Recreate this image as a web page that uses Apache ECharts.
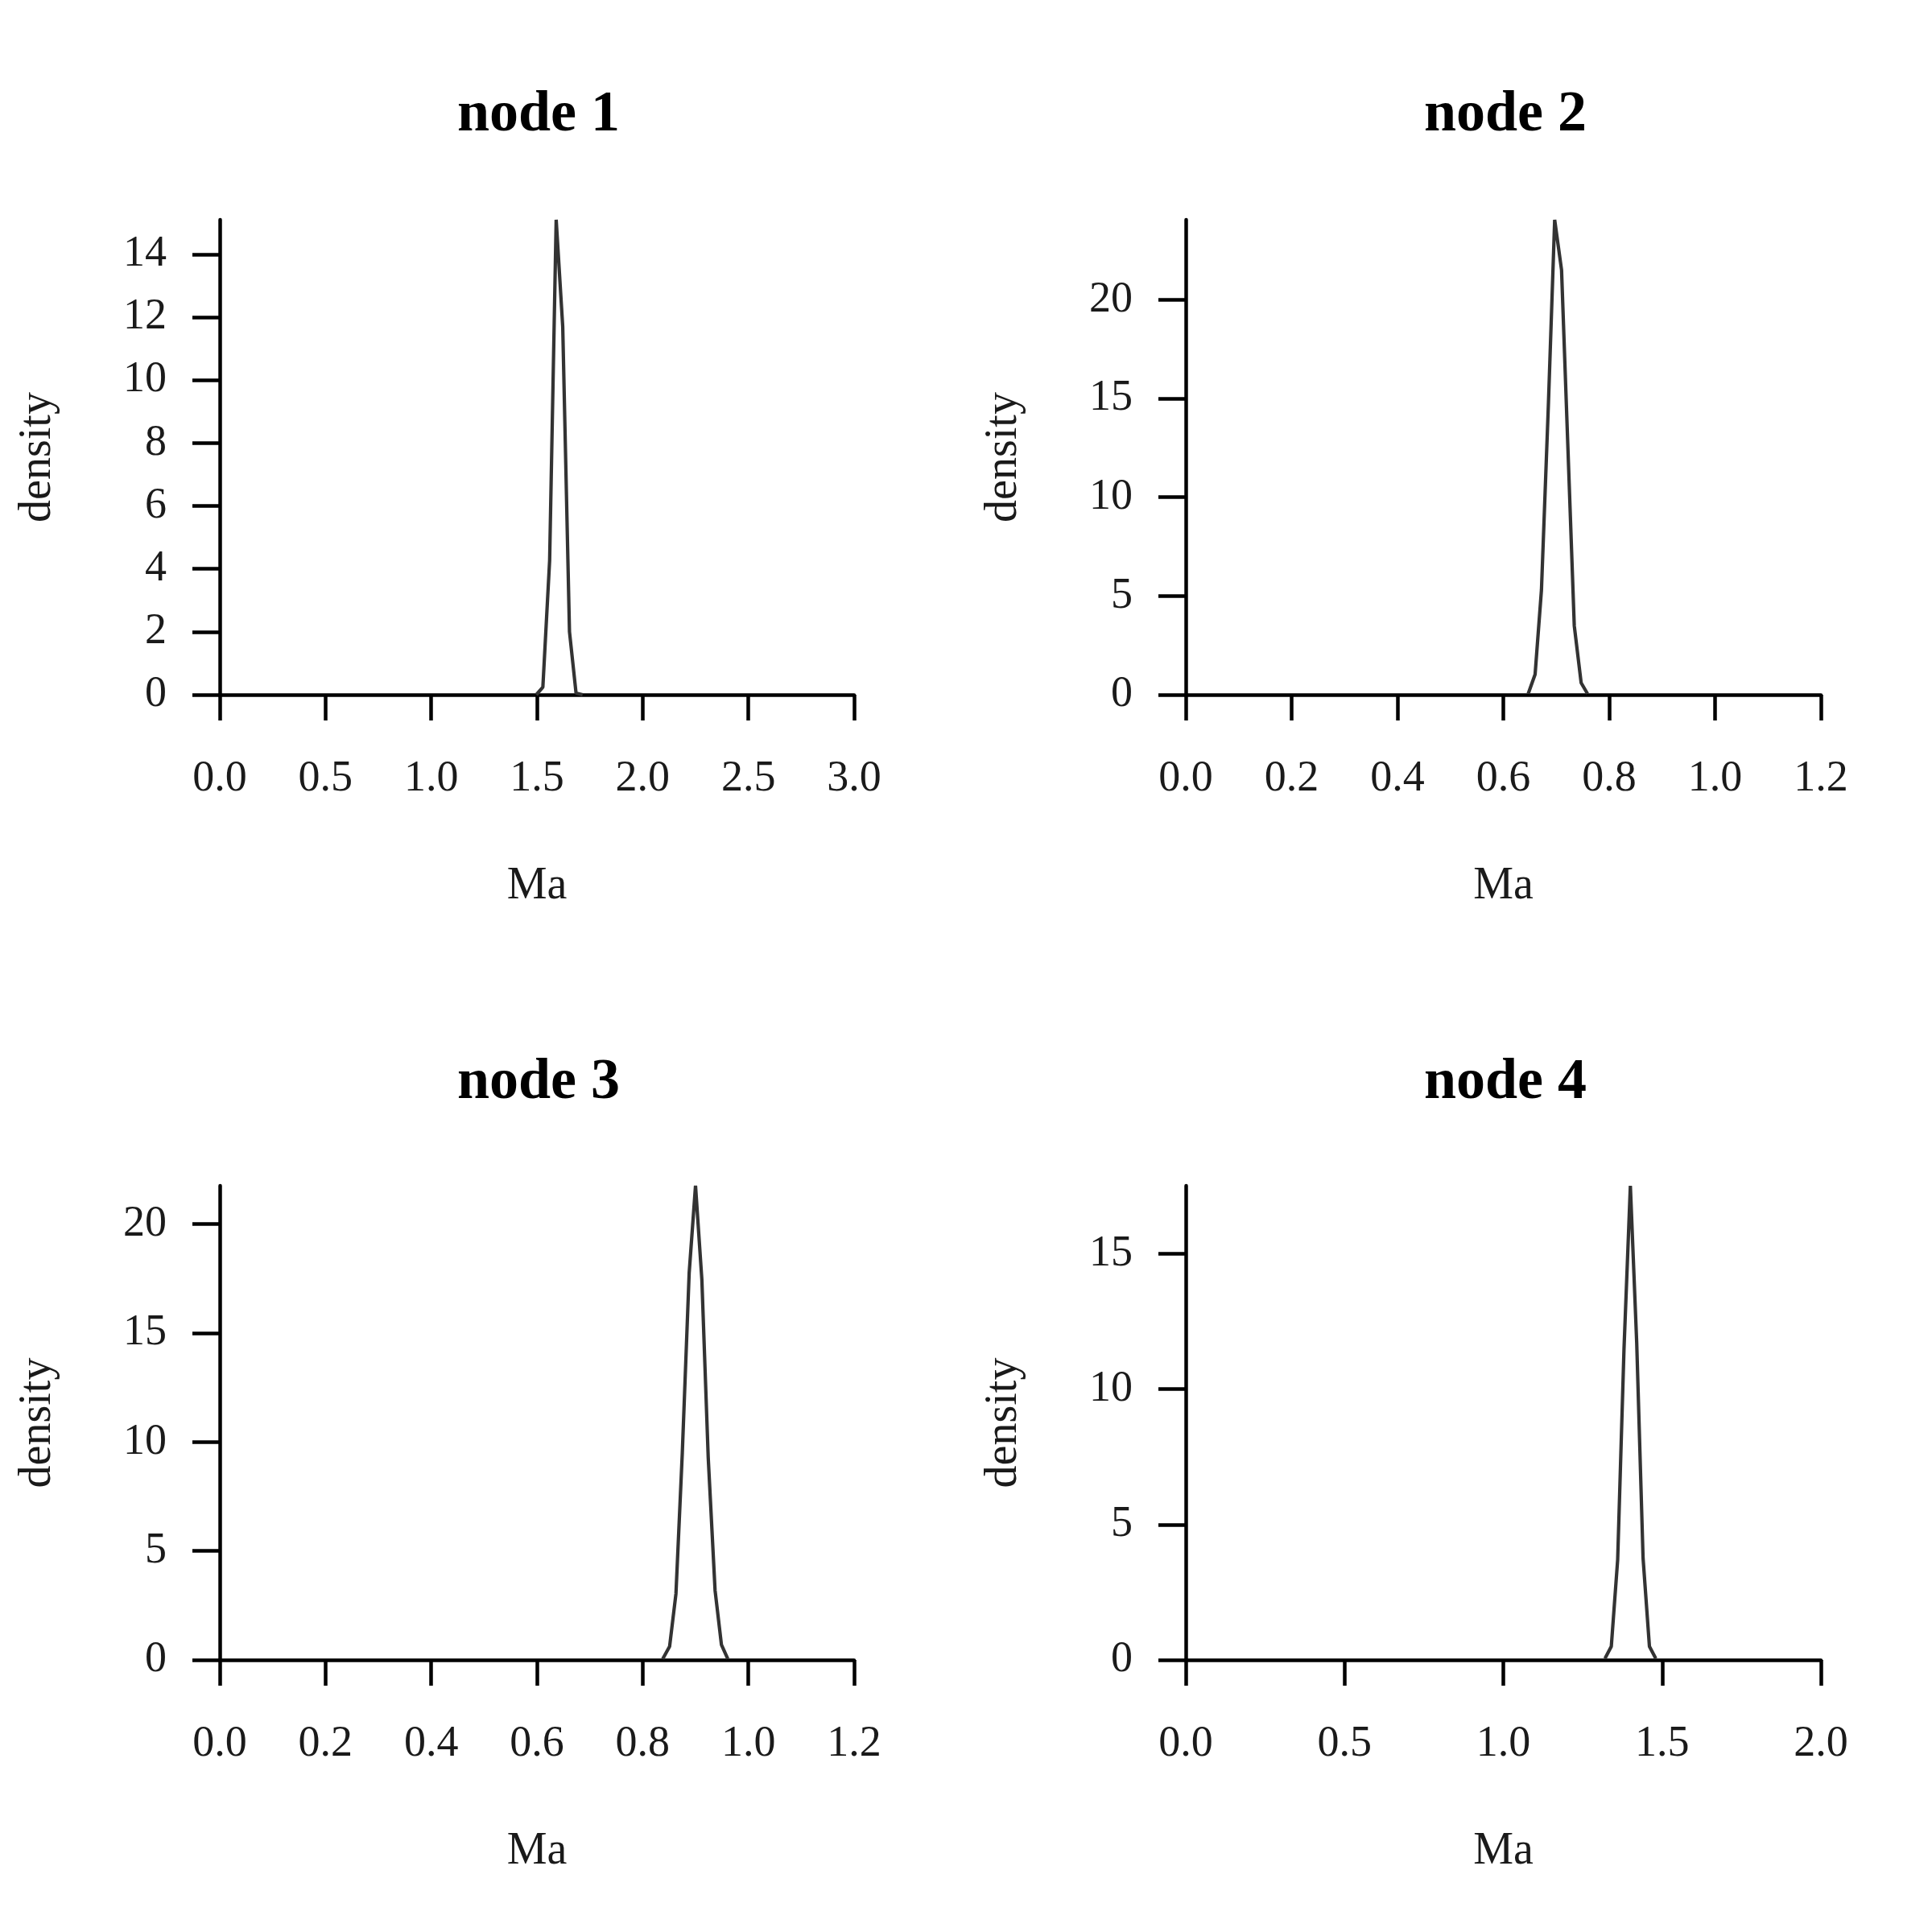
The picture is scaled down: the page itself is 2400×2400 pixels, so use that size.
<!DOCTYPE html>
<html>
<head>
<meta charset="utf-8">
<script src="https://cdn.jsdelivr.net/npm/echarts@6/dist/echarts.min.js"></script>
<style>
html,body{margin:0;padding:0;background:#fff;}
#chart{width:2400px;height:2400px;}
</style>
</head>
<body>
<div id="chart"></div>
<script>
// ---- data ----
const titles = ['node 1', 'node 2', 'node 3', 'node 4'];

const node1X = [1.497, 1.528, 1.560, 1.591, 1.622, 1.654, 1.685, 1.716];
const node1Y = [0.00, 0.24, 4.26, 15.10, 11.70, 2.00, 0.05, 0.00];

const node2X = [0.647, 0.660, 0.672, 0.685, 0.697, 0.710, 0.722, 0.734, 0.747, 0.759];
const node2Y = [0.05, 1.03, 5.30, 14.60, 24.05, 21.50, 12.50, 3.50, 0.60, 0.05];

const node3X = [0.838, 0.851, 0.863, 0.875, 0.888, 0.900, 0.912, 0.924, 0.937, 0.949, 0.961];
const node3Y = [0.05, 0.62, 3.04, 9.50, 17.76, 21.76, 17.45, 9.30, 3.19, 0.70, 0.05];

const node4X = [1.320, 1.340, 1.360, 1.380, 1.400, 1.420, 1.440, 1.460, 1.480];
const node4Y = [0.05, 0.50, 3.70, 11.50, 17.51, 11.70, 3.76, 0.50, 0.05];

const xTicks1 = [0.0, 0.5, 1.0, 1.5, 2.0, 2.5, 3.0];
const xTicks2 = [0.0, 0.2, 0.4, 0.6, 0.8, 1.0, 1.2];
const xTicks3 = [0.0, 0.2, 0.4, 0.6, 0.8, 1.0, 1.2];
const xTicks4 = [0.0, 0.5, 1.0, 1.5, 2.0];

const yTicks1 = [0, 2, 4, 6, 8, 10, 12, 14];
const yTicks2 = [0, 5, 10, 15, 20];
const yTicks3 = [0, 5, 10, 15, 20];
const yTicks4 = [0, 5, 10, 15];

// ---- build ----
const FONT = "'Liberation Serif', 'DejaVu Serif', serif";
const panels = [
  {x: node1X, y: node1Y, xt: xTicks1, yt: yTicks1},
  {x: node2X, y: node2Y, xt: xTicks2, yt: yTicks2},
  {x: node3X, y: node3Y, xt: xTicks3, yt: yTicks3},
  {x: node4X, y: node4Y, xt: xTicks4, yt: yTicks4}
];

const gridPos = [
  {left: 273, right: 1339, top: 273, bottom: 1537},
  {left: 1473, right: 138, top: 273, bottom: 1537},
  {left: 273, right: 1339, top: 1473, bottom: 338},
  {left: 1473, right: 138, top: 1473, bottom: 338}
];
const titleCenters = [[664, 102], [1865, 102], [664, 1304], [1865, 1304]];

const grids = [], xAxes = [], yAxes = [], series = [], titleOpts = [];
panels.forEach((p, i) => {
  grids.push(Object.assign({containLabel: false}, gridPos[i]));
  const xmin = p.xt[0], xmax = p.xt[p.xt.length - 1];
  const ymax = Math.max.apply(null, p.y);
  xAxes.push({
    type: 'value', gridIndex: i, min: xmin, max: xmax,
    interval: p.xt[1] - p.xt[0],
    splitLine: {show: false},
    axisLine: {show: true, onZero: false, lineStyle: {color: '#000', width: 4.5}},
    axisTick: {show: true, length: 32, lineStyle: {color: '#000', width: 4.5}, customValues: p.xt},
    axisLabel: {show: true, margin: 78, color: '#1a1a1a', fontFamily: FONT, fontSize: 54,
      customValues: p.xt, formatter: v => v.toFixed(1)},
    name: 'Ma', nameLocation: 'middle', nameGap: 210,
    nameTextStyle: {color: '#1a1a1a', fontFamily: FONT, fontSize: 56}
  });
  yAxes.push({
    type: 'value', gridIndex: i, min: 0, max: ymax,
    interval: p.yt[1] - p.yt[0],
    splitLine: {show: false},
    axisLine: {show: true, lineStyle: {color: '#000', width: 4.5}},
    axisTick: {show: true, length: 34, lineStyle: {color: '#000', width: 4.5}, customValues: p.yt},
    axisLabel: {show: true, margin: 66, color: '#1a1a1a', fontFamily: FONT, fontSize: 54,
      customValues: p.yt, formatter: v => String(v)},
    name: 'density', nameLocation: 'middle', nameGap: 198,
    nameTextStyle: {color: '#1a1a1a', fontFamily: FONT, fontSize: 56}
  });
  series.push({
    type: 'line', xAxisIndex: i, yAxisIndex: i,
    data: p.x.map((v, k) => [v, p.y[k]]),
    showSymbol: false, symbol: 'none', clip: false,
    lineStyle: {color: '#333333', width: 4.2},
    silent: true, animation: false
  });
  titleOpts.push({
    text: titles[i], left: titleCenters[i][0], top: titleCenters[i][1], textAlign: 'center',
    textStyle: {fontFamily: FONT, fontSize: 72, fontWeight: 'bold', color: '#000'}
  });
});

const chart = echarts.init(document.getElementById('chart'), null, {renderer: 'canvas'});
chart.setOption({
  backgroundColor: '#ffffff',
  animation: false,
  title: titleOpts,
  grid: grids,
  xAxis: xAxes,
  yAxis: yAxes,
  series: series
});
</script>
</body>
</html>
